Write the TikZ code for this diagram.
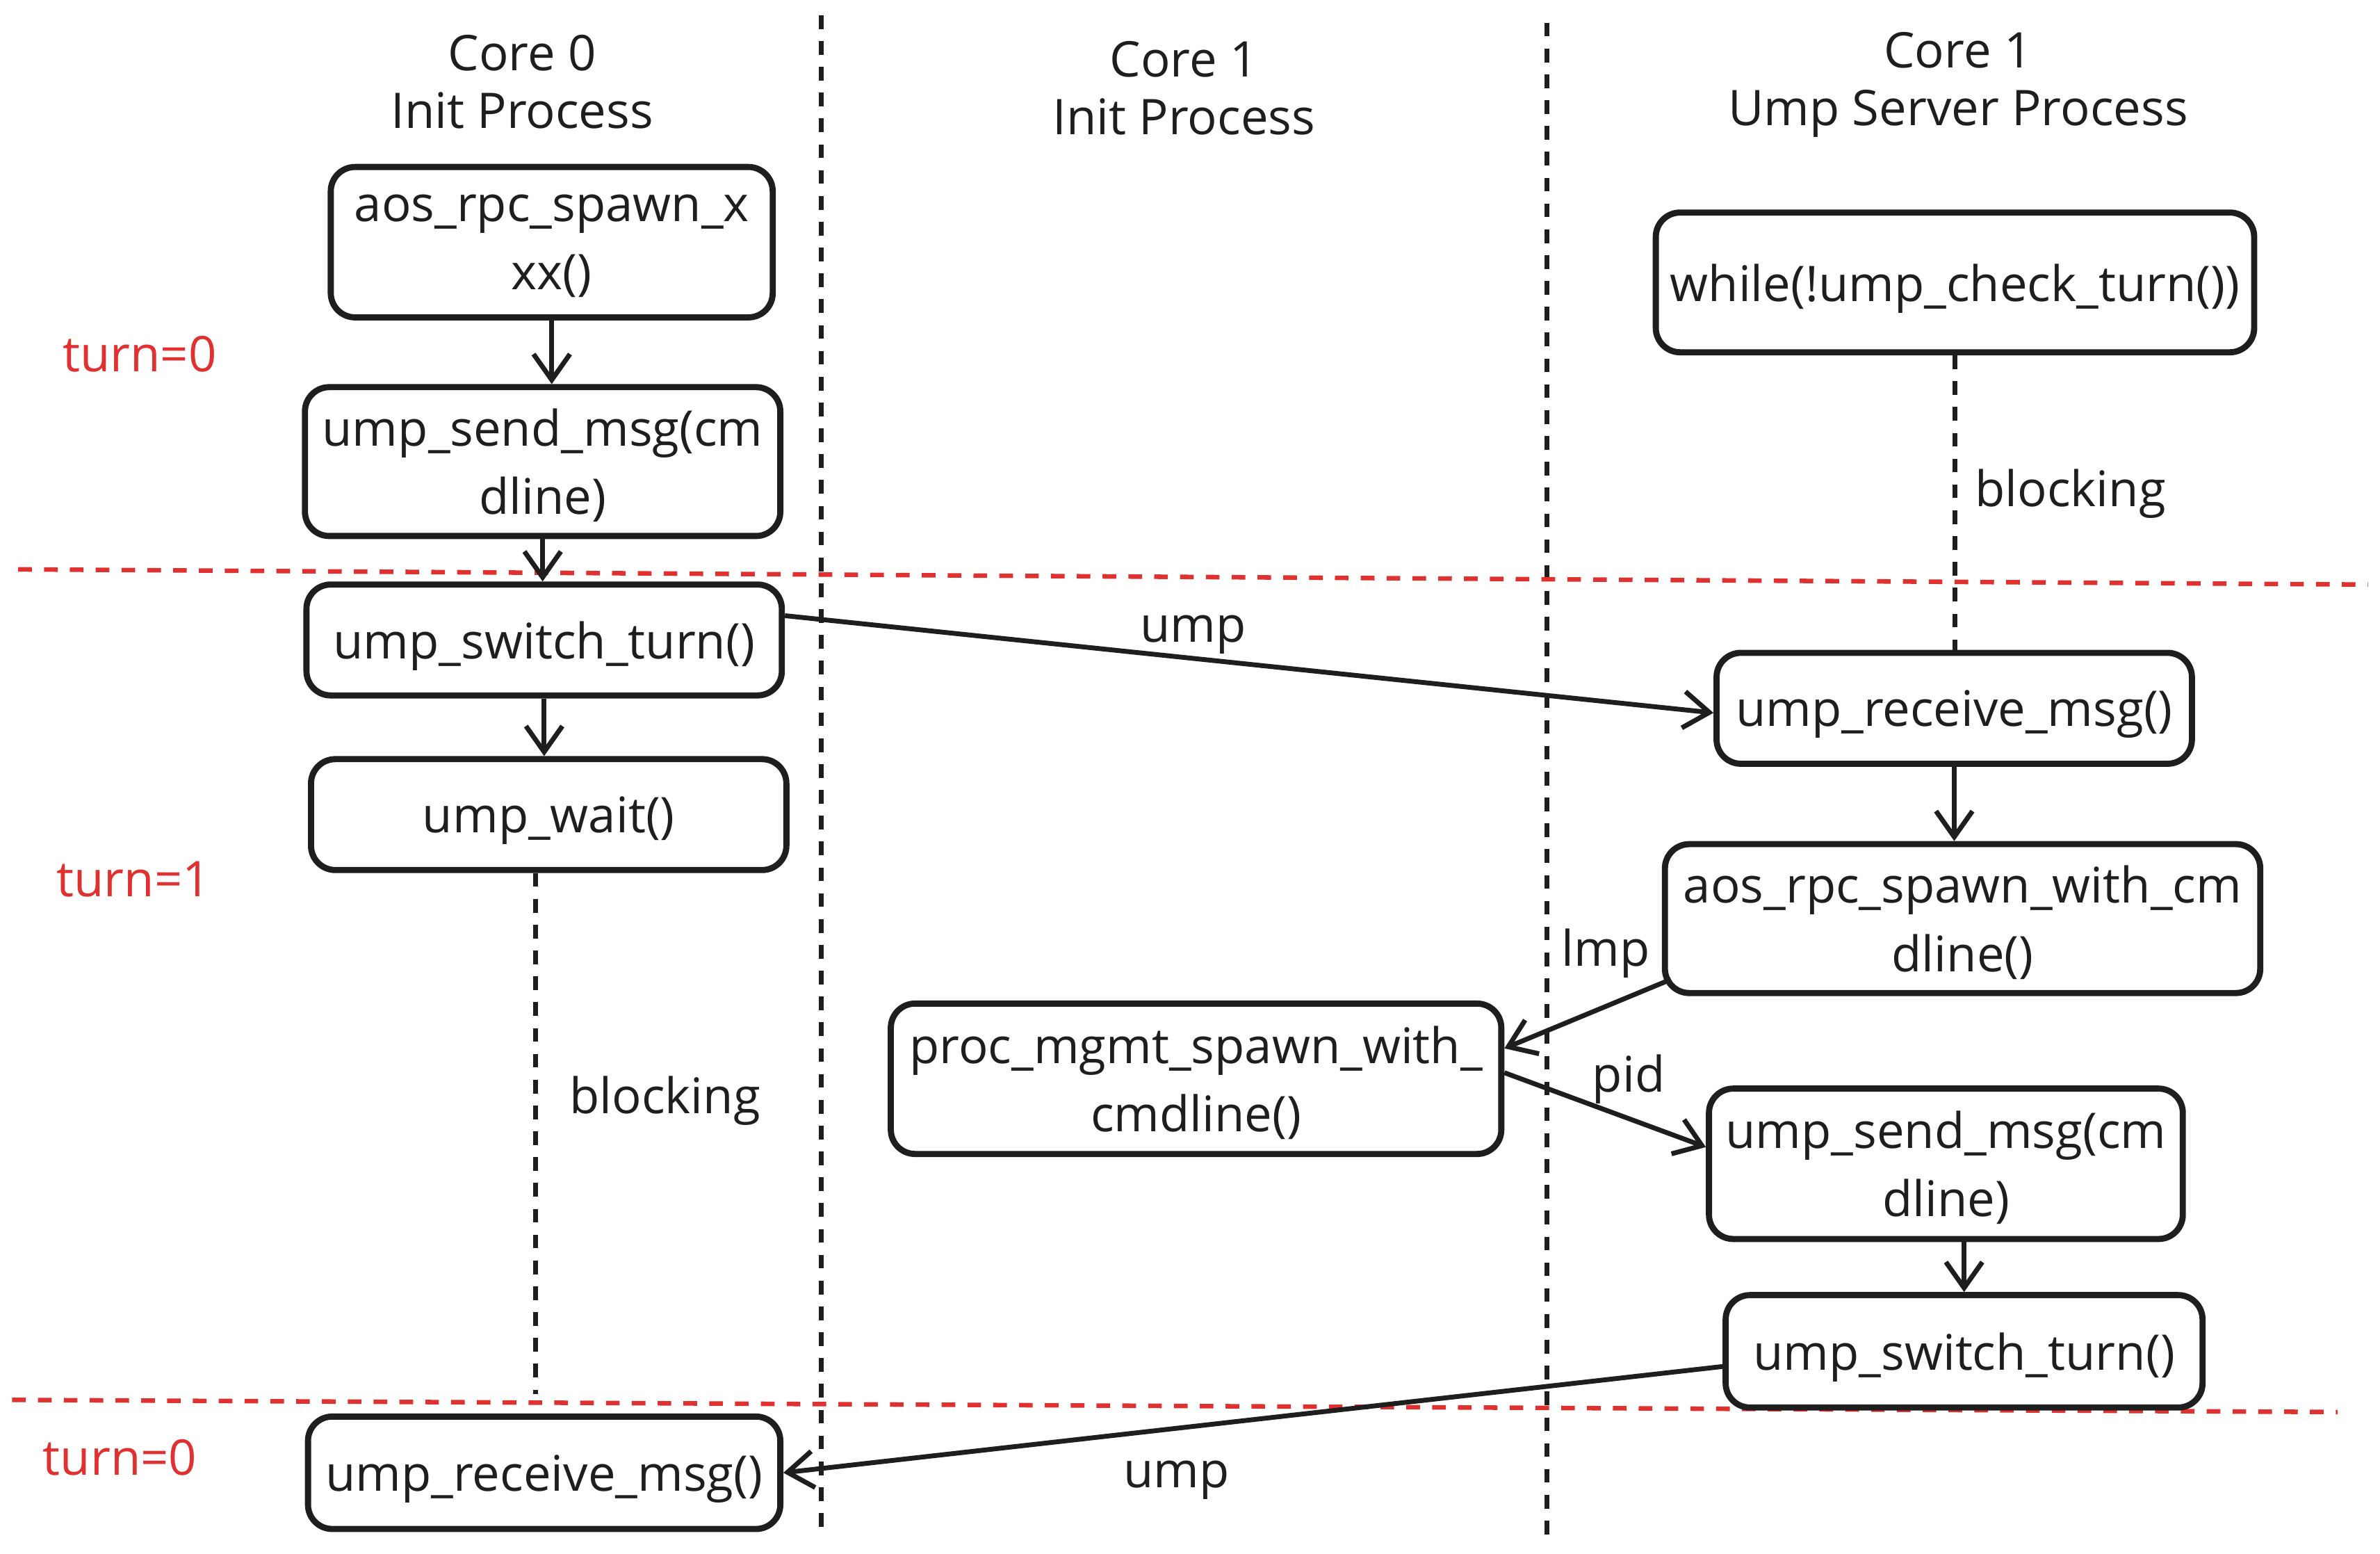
\documentclass[tikz,border=0pt]{standalone}
\usepackage{fontspec}
\setmainfont{Open Sans}
\usetikzlibrary{arrows.meta}
\definecolor{ink}{HTML}{1E1E1E}
\definecolor{turnred}{HTML}{E03131}

\tikzset{
  proc/.style={draw=ink, line width=1.15pt, rounded corners=0.16cm, align=center, inner sep=0pt, text depth=0pt, text=ink, font=\fontsize{9.2}{12.8}\selectfont},
  msg/.style={draw=ink, line width=0.9pt, -{Straight Barb[length=1.7mm,width=2.4mm,line width=0.9pt]}},
  wait/.style={draw=ink, line width=0.95pt, dash pattern=on 0.9mm off 0.8mm},
  lane/.style={draw=ink, line width=0.95pt, dash pattern=on 0.9mm off 0.8mm},
  turnline/.style={draw=turnred, line width=0.85pt, dash pattern=on 0.9mm off 0.8mm},
  turnlbl/.style={text=turnred, font=\fontsize{9.2}{12.8}\selectfont},
  lbl/.style={text=ink, align=center, font=\fontsize{9.2}{10.8}\selectfont},
}

\begin{document}
\begin{tikzpicture}[x=0.01cm, y=-0.01cm]
\useasboundingbox (0,0) rectangle (1568,1023.5);

% lanes and turns
\draw[lane] (541,10) -- (541,1012);
\draw[lane] (1019,15) -- (1019,1015);
\draw[turnline] (12,375) -- (1560,385);
\draw[turnline] (8,922) -- (1540,930);

\node[lbl] (h0) at (344,54) {Core 0\\Init Process};
\node[lbl] (h1) at (780,58) {Core 1\\Init Process};
\node[lbl] (h2) at (1290,56) {Core 1\\Ump Server Process};

\node[turnlbl] (t0) at (92,233) {turn=0};
\node[turnlbl] (t1) at (88,579) {turn=1};
\node[turnlbl] (t2) at (79,960) {turn=0};

% core 0 init
\node[proc, minimum width=2.91cm, minimum height=0.99cm] (spawnx) at (363.5,159.5) {aos\_rpc\_spawn\_x\\xx()};
\node[proc, minimum width=3.13cm, minimum height=0.98cm] (send0) at (357.5,304) {ump\_send\_msg(cm\\dline)};
\node[proc, minimum width=3.13cm, minimum height=0.73cm] (switch0) at (358.5,421.5) {ump\_switch\_turn()};
\node[proc, minimum width=3.13cm, minimum height=0.73cm] (wait0) at (361.5,536.5) {ump\_wait()};
\node[proc, minimum width=3.11cm, minimum height=0.74cm] (recv0) at (358.5,970) {ump\_receive\_msg()};
\coordinate (wait0end) at (353,918);

% core 1 init
\node[proc, minimum width=4.02cm, minimum height=0.99cm] (mgmt) at (788,710.5) {proc\_mgmt\_spawn\_with\_\\cmdline()};

% core 1 ump server
\node[proc, minimum width=3.94cm, minimum height=0.92cm] (check) at (1288,186) {while(!ump\_check\_turn())};
\node[proc, minimum width=3.13cm, minimum height=0.73cm] (recv1) at (1287.5,466.5) {ump\_receive\_msg()};
\node[proc, minimum width=3.92cm, minimum height=0.98cm] (spawncmd) at (1293,605) {aos\_rpc\_spawn\_with\_cm\\dline()};
\node[proc, minimum width=3.12cm, minimum height=0.99cm] (send1) at (1282,766.5) {ump\_send\_msg(cm\\dline)};
\node[proc, minimum width=3.14cm, minimum height=0.74cm] (switch1) at (1294,890) {ump\_switch\_turn()};

\draw[msg] (spawnx.south) -- (spawnx.south |- send0.north);
\draw[msg] (send0.south) -- (send0.south |- switch0.north);
\draw[msg] (switch0.south) -- (switch0.south |- wait0.north);
\draw[wait] (wait0.south -| wait0end) -- (wait0end);
\node[lbl] (blk0) at (438,725) {blocking};

\draw[msg] ([yshift=0.16cm]switch0.east) -- ([yshift=-0.03cm]recv1.west);
\node[lbl] (ump0) at (786,418) {ump};

\draw[wait] (check.south) -- (check.south |- recv1.north);
\node[lbl] (blk1) at (1364,325) {blocking};

\draw[msg] (recv1.south) -- (recv1.south |- spawncmd.north);
\draw[msg] ([xshift=0.06cm,yshift=0.11cm]spawncmd.south west) -- ([yshift=0.2cm]mgmt.east);
\node[lbl] (lmp) at (1058,628) {lmp};
\draw[msg] ([yshift=0.04cm]mgmt.east) -- ([yshift=0.11cm]send1.west);
\node[lbl] (pid) at (1073,711) {pid};
\draw[msg] (switch1.north |- send1.south) -- (switch1.north);
\draw[msg] ([yshift=-0.1cm]switch1.west) -- (recv0.east);
\node[lbl] (ump1) at (775,975) {ump};
\end{tikzpicture}
\end{document}
